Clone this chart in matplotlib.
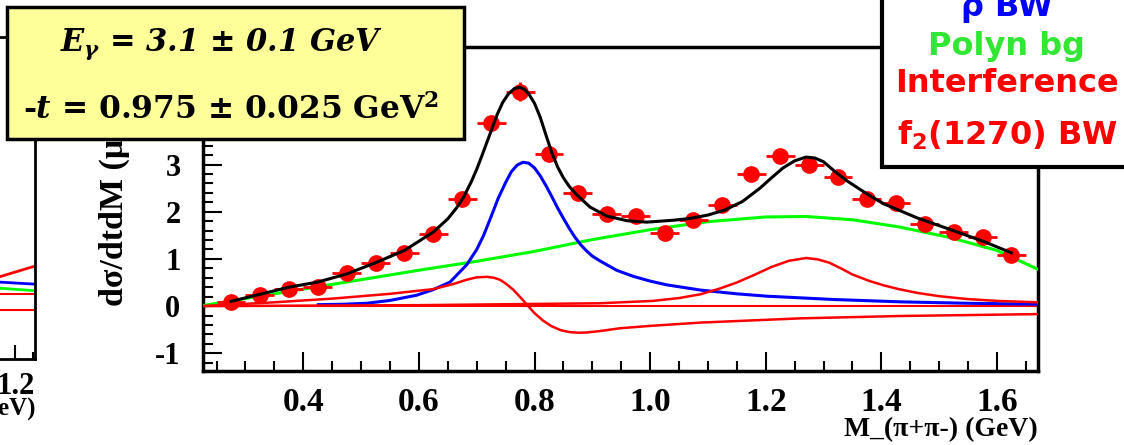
import matplotlib
matplotlib.use("Agg")
import matplotlib.pyplot as plt
from matplotlib.patches import Rectangle
from matplotlib.ticker import MultipleLocator

plt.rcParams['mathtext.fontset'] = 'custom'
plt.rcParams['mathtext.it'] = 'DejaVu Serif:italic:bold'
plt.rcParams['mathtext.rm'] = 'DejaVu Serif:bold'
plt.rcParams['mathtext.sf'] = 'DejaVu Sans:bold'
plt.rcParams['axes.unicode_minus'] = False

# data points (M, dsigma/dtdM)
mass = [0.275, 0.325, 0.375, 0.425, 0.475, 0.525, 0.575, 0.625, 0.675, 0.725,
        0.775, 0.825, 0.875, 0.925, 0.975, 1.025, 1.075, 1.125, 1.175, 1.225,
        1.275, 1.325, 1.375, 1.425, 1.475, 1.525, 1.575, 1.625]
xsec = [0.09, 0.23, 0.36, 0.40, 0.70, 0.92, 1.13, 1.52, 2.28, 3.88,
        4.55, 3.23, 2.40, 1.96, 1.91, 1.56, 1.83, 2.14, 2.81, 3.18,
        3.00, 2.73, 2.28, 2.18, 1.75, 1.57, 1.47, 1.08]
xsec_err = [0.08, 0.08, 0.08, 0.08, 0.1, 0.1, 0.1, 0.12, 0.14, 0.16,
            0.2, 0.15, 0.12, 0.1, 0.1, 0.1, 0.1, 0.12, 0.12, 0.14,
            0.14, 0.12, 0.12, 0.12, 0.1, 0.1, 0.1, 0.1]
bin_half = 0.025

# total fit
fit_x = [0.275, 0.325, 0.375, 0.425, 0.475, 0.525, 0.575, 0.625, 0.65, 0.665,
         0.676, 0.69, 0.70, 0.71, 0.723, 0.735, 0.745, 0.755, 0.765, 0.774,
         0.782, 0.79, 0.80, 0.81, 0.82, 0.83, 0.84, 0.85, 0.86, 0.873,
         0.896, 0.925, 0.96, 0.994, 1.04, 1.07, 1.10, 1.13, 1.16, 1.19,
         1.21, 1.23, 1.25, 1.27, 1.285, 1.30, 1.32, 1.34, 1.36, 1.375,
         1.39, 1.404, 1.433, 1.462, 1.52, 1.577, 1.625]
fit_y = [0.10, 0.25, 0.40, 0.51, 0.68, 0.92, 1.18, 1.57, 1.85, 2.08,
         2.28, 2.62, 2.90, 3.22, 3.65, 4.05, 4.32, 4.50, 4.61, 4.64,
         4.60, 4.50, 4.30, 4.00, 3.62, 3.25, 2.95, 2.72, 2.54, 2.36,
         2.10, 1.91, 1.81, 1.78, 1.82, 1.86, 1.93, 2.04, 2.22, 2.50,
         2.72, 2.93, 3.08, 3.16, 3.14, 3.06, 2.85, 2.66, 2.50, 2.38,
         2.27, 2.17, 2.02, 1.87, 1.62, 1.37, 1.13]

# rho Breit-Wigner
rho_x = [0.426, 0.47, 0.51, 0.55, 0.596, 0.625, 0.654, 0.683, 0.70, 0.712,
         0.725, 0.737, 0.75, 0.76, 0.77, 0.78, 0.79, 0.80, 0.81, 0.82,
         0.83, 0.84, 0.85, 0.86, 0.87, 0.88, 0.89, 0.90, 0.913, 0.942,
         0.971, 1.0, 1.029, 1.087, 1.15, 1.202, 1.317, 1.433, 1.548, 1.671]
rho_y = [0.03, 0.04, 0.06, 0.12, 0.23, 0.35, 0.51, 0.88, 1.20, 1.50,
         1.90, 2.28, 2.62, 2.85, 2.99, 3.05, 3.03, 2.93, 2.76, 2.55,
         2.32, 2.08, 1.86, 1.65, 1.46, 1.30, 1.17, 1.06, 0.96, 0.76,
         0.63, 0.53, 0.45, 0.34, 0.26, 0.21, 0.14, 0.09, 0.06, 0.04]

# polynomial background
bg_x = [0.226, 0.30, 0.40, 0.50, 0.60, 0.70, 0.80, 0.90, 1.00, 1.10,
        1.20, 1.27, 1.35, 1.43, 1.52, 1.60, 1.671]
bg_y = [0.01, 0.16, 0.36, 0.56, 0.76, 0.95, 1.16, 1.41, 1.62, 1.79,
        1.89, 1.90, 1.83, 1.68, 1.45, 1.18, 0.78]

# interference term
int_x = [0.226, 0.35, 0.452, 0.55, 0.625, 0.66, 0.683, 0.70, 0.718, 0.73,
         0.74, 0.75, 0.763, 0.776, 0.789, 0.80, 0.815, 0.83, 0.845, 0.86,
         0.875, 0.89, 0.913, 0.948, 1.0, 1.087, 1.26, 1.433, 1.671]
int_y = [0.0, 0.08, 0.16, 0.26, 0.36, 0.47, 0.56, 0.61, 0.62, 0.60,
         0.56, 0.48, 0.35, 0.18, 0.0, -0.15, -0.31, -0.43, -0.51, -0.55,
         -0.565, -0.56, -0.53, -0.47, -0.42, -0.35, -0.26, -0.21, -0.17]

# f2(1270) Breit-Wigner
f2_x = [0.226, 0.6, 0.913, 1.005, 1.05, 1.087, 1.12, 1.15, 1.18, 1.21,
        1.24, 1.27, 1.29, 1.31, 1.33, 1.35, 1.38, 1.404, 1.43, 1.462,
        1.50, 1.548, 1.60, 1.671]
f2_y = [0.0, 0.02, 0.06, 0.11, 0.17, 0.25, 0.37, 0.50, 0.66, 0.83,
        0.96, 1.02, 0.99, 0.92, 0.80, 0.67, 0.53, 0.44, 0.36, 0.28,
        0.21, 0.15, 0.11, 0.08]

# visible tail of the neighbouring panel
left_x = [1.158, 1.25]
left_f2 = [0.37, 0.58]
left_rho = [0.25, 0.21]
left_bg = [0.12, 0.07]
left_zero = [0.0, 0.0]
left_int = [-0.345, -0.345]

W, H = 1124, 445
fig = plt.figure(figsize=(W / 100, H / 100), dpi=100)

def px_box(l, t, r, b):
    return [l / W, 1 - b / H, (r - l) / W, (b - t) / H]

serif = 'Liberation Serif'

# ---- left (partially visible) panel
axl = fig.add_axes(px_box(-300, 36.7, 35, 359.3))
axl.plot(left_x, left_rho, color='blue', lw=2)
axl.plot(left_x, left_bg, color='#00ff00', lw=2)
axl.plot(left_x, left_zero, color='red', lw=1.5)
axl.plot(left_x, left_int, color='red', lw=1.5)
axl.plot(left_x, left_f2, color='red', lw=2)
axl.set_xlim(0.31, 1.256)
axl.set_ylim(-1.4, 5.5)
axl.xaxis.set_major_locator(MultipleLocator(0.2))
axl.xaxis.set_minor_locator(MultipleLocator(0.05))
axl.set_yticks([])
axl.tick_params(axis='x', which='both', direction='in', top=False, pad=9)
axl.tick_params(axis='x', which='major', length=10, width=1.5, labelsize=22)
axl.tick_params(axis='x', which='minor', length=5, width=1.5)
for lab in axl.get_xticklabels():
    lab.set_fontfamily(serif)
    lab.set_fontweight('bold')
for s in axl.spines.values():
    s.set_linewidth(2)
axl.set_xlabel('M_(π+π-) (GeV)', fontfamily=serif, fontweight='bold', fontsize=18,
               loc='right', labelpad=-2)

# ---- main panel
ax = fig.add_axes(px_box(202.7, 46.7, 1038, 370.7))
ax.axhline(0, color='red', lw=1.5, zorder=2)
ax.plot(bg_x, bg_y, color='#00ff00', lw=2.2, zorder=3)
ax.plot(rho_x, rho_y, color='blue', lw=2.2, zorder=3)
ax.plot(f2_x, f2_y, color='red', lw=1.8, zorder=3)
ax.plot(int_x, int_y, color='red', lw=1.8, zorder=3)
ax.errorbar(mass, xsec, xerr=bin_half, yerr=xsec_err, fmt='o', color='red',
            ms=11, elinewidth=2, capsize=0, zorder=4)
ax.plot(fit_x, fit_y, color='black', lw=2.2, zorder=5)

ax.set_xlim(0.226, 1.671)
ax.set_ylim(-1.37, 5.5)
ax.xaxis.set_major_locator(MultipleLocator(0.2))
ax.xaxis.set_minor_locator(MultipleLocator(0.05))
ax.yaxis.set_major_locator(MultipleLocator(1))
ax.yaxis.set_minor_locator(MultipleLocator(0.2))
ax.tick_params(which='both', direction='in', top=False, right=False, width=1.5)
ax.tick_params(which='major', length=14)
ax.tick_params(which='minor', length=7)
ax.tick_params(axis='x', which='major', pad=12, labelsize=24)
ax.tick_params(axis='y', which='major', pad=16, labelsize=22)
for lab in ax.get_xticklabels() + ax.get_yticklabels():
    lab.set_fontfamily(serif)
    lab.set_fontweight('bold')
for s in ax.spines.values():
    s.set_linewidth(2.5)
ax.set_xlabel('M_(π+π-) (GeV)', fontfamily=serif, fontweight='bold', fontsize=20,
              loc='right', labelpad=-1)
# y title: its upper part runs under the info box
fig.text(114 / W, 1 - 306 / H, 'dσ/dtdM (μb/GeV³)', rotation=90, ha='center', va='bottom',
         fontfamily=serif, fontweight='bold', fontsize=24.5)

# ---- yellow info box
fig.add_artist(Rectangle((7.3 / W, 1 - 139.3 / H), (464 - 7.3) / W, (139.3 - 6.7) / H,
                         transform=fig.transFigure, facecolor='#ffff99',
                         edgecolor='black', lw=2.5, zorder=10))
fig.text(221 / W, 1 - 50.7 / H, r'$E_\gamma$ = 3.1 ± 0.1 GeV', ha='center', va='baseline',
         fontfamily='DejaVu Serif', fontweight='bold', fontstyle='italic', fontsize=22,
         zorder=11)
fig.text(231 / W, 1 - 119.3 / H, r'-$t$ = 0.975 ± 0.025 GeV$^2$', ha='center', va='baseline',
         fontfamily='DejaVu Serif', fontweight='bold', fontsize=22.5, zorder=11)

# ---- legend box
fig.add_artist(Rectangle((881.7 / W, 1 - 166.7 / H), (1140 - 881.7) / W, 180 / H,
                         transform=fig.transFigure, facecolor='white',
                         edgecolor='black', lw=3, zorder=10))
leg_items = [('ρ BW', 'blue', 16), ('Polyn bg', '#33e633', 55),
             ('Interference', 'red', 91.7), (r'f$_\mathsf{2}$(1270) BW', 'red', 145)]
for txt, col, base in leg_items:
    fig.text(1007 / W, 1 - base / H, txt, color=col, ha='center', va='baseline',
             fontfamily='DejaVu Sans', fontweight='bold', fontsize=23, zorder=11)

fig.savefig('out.png', dpi=100)
